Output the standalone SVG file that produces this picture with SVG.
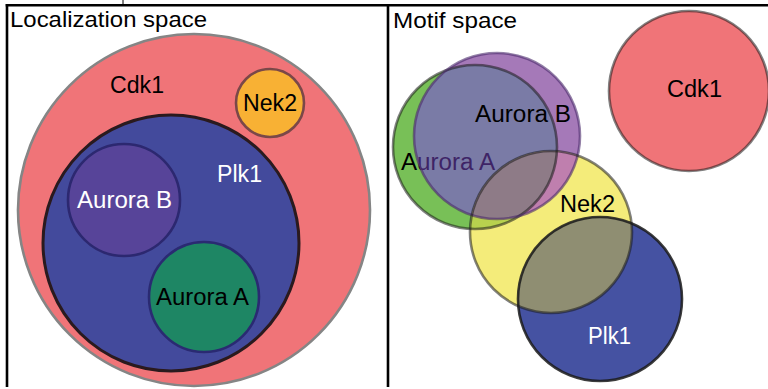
<svg xmlns="http://www.w3.org/2000/svg" width="768" height="389" viewBox="0 0 768 389">
<style>
text{font-family:"Liberation Sans",Arial,sans-serif;font-size:23px;fill:#000}
.w{fill:#fff}
.ttl{font-size:22.5px}
.frame{stroke:#000;stroke-width:2.6;fill:none}
.ms{fill:none;stroke:#1a1a1a;stroke-opacity:0.55;stroke-width:2.6}
</style>
<defs>
<clipPath id="cG"><circle cx="475" cy="147" r="82"/></clipPath>
<clipPath id="cP"><circle cx="497" cy="136" r="83"/></clipPath>
<clipPath id="cY"><circle cx="551" cy="232" r="81"/></clipPath>
</defs>
<rect width="768" height="389" fill="#fff"/>

<!-- Localization space -->
<g id="loc-cdk1">
<circle cx="194" cy="210" r="176" fill="#f07478" stroke="#858585" stroke-width="2.6"/>
<text x="137" y="93" text-anchor="middle" textLength="54" lengthAdjust="spacingAndGlyphs">Cdk1</text>
</g>
<g id="loc-nek2">
<circle cx="270" cy="103" r="34" fill="#f8b134" stroke="#7a4848" stroke-width="2.6"/>
<text x="270" y="111" text-anchor="middle" textLength="54" lengthAdjust="spacingAndGlyphs">Nek2</text>
</g>
<g id="loc-plk1">
<circle cx="171" cy="243" r="128" fill="#434a9c" stroke="#2a1a1e" stroke-width="3"/>
<text class="w" x="239.5" y="182" text-anchor="middle" textLength="45" lengthAdjust="spacingAndGlyphs">Plk1</text>
</g>
<g id="loc-aurora-b">
<circle cx="124" cy="200" r="56" fill="#574499" stroke="#2c2870" stroke-width="2.6"/>
<text class="w" x="124.5" y="208" text-anchor="middle" textLength="95" lengthAdjust="spacingAndGlyphs">Aurora B</text>
</g>
<g id="loc-aurora-a">
<circle cx="204" cy="297" r="55" fill="#1e8664" stroke="#2a2a72" stroke-width="2.6"/>
<text x="202.5" y="305" text-anchor="middle" textLength="93" lengthAdjust="spacingAndGlyphs">Aurora A</text>
</g>

<!-- Motif space -->
<g id="mot-cdk1">
<circle cx="689" cy="91" r="80" fill="#f07478" stroke="#1a1a1a" stroke-opacity="0.55" stroke-width="2.6"/>
<text x="694.5" y="97" text-anchor="middle" textLength="55" lengthAdjust="spacingAndGlyphs">Cdk1</text>
</g>
<g id="mot-aurora-a">
<circle cx="475" cy="147" r="82" fill="#78c057"/>
<text x="448" y="170" text-anchor="middle" textLength="94" lengthAdjust="spacingAndGlyphs">Aurora A</text>
</g>
<g id="mot-aurora-b">
<circle cx="497" cy="136" r="83" fill="#a579b8"/>
<circle cx="497" cy="136" r="83" fill="#7a7ba6" clip-path="url(#cG)"/>
<g clip-path="url(#cP)"><text x="448" y="170" text-anchor="middle" textLength="94" lengthAdjust="spacingAndGlyphs" style="fill:#3e2466">Aurora A</text></g>
</g>
<g id="mot-nek2">
<circle cx="551" cy="232" r="81" fill="#f4ec7a"/>
<circle cx="551" cy="232" r="81" fill="#b8d14e" clip-path="url(#cG)"/>
<circle cx="551" cy="232" r="81" fill="#bf7fae" clip-path="url(#cP)"/>
<g clip-path="url(#cP)"><circle cx="551" cy="232" r="81" fill="#8e7b87" clip-path="url(#cG)"/></g>
</g>
<g id="mot-plk1">
<circle cx="600" cy="299" r="82" fill="#4552a2"/>
<circle cx="600" cy="299" r="82" fill="#8f8e72" clip-path="url(#cY)"/>
</g>
<g id="mot-outlines">
<circle class="ms" cx="475" cy="147" r="82"/>
<circle class="ms" cx="497" cy="136" r="83" style="stroke:#4a2a6a;stroke-opacity:0.6"/>
<circle class="ms" cx="551" cy="232" r="81"/>
<circle class="ms" cx="600" cy="299" r="82" style="stroke-opacity:0.85"/>
</g>
<g id="mot-labels">
<text x="523" y="122" text-anchor="middle" textLength="96" lengthAdjust="spacingAndGlyphs">Aurora B</text>
<text x="587.5" y="212" text-anchor="middle" textLength="55" lengthAdjust="spacingAndGlyphs">Nek2</text>
<text class="w" x="609.5" y="344" text-anchor="middle" textLength="43" lengthAdjust="spacingAndGlyphs">Plk1</text>
</g>

<!-- Frame -->
<g id="frame">
<line class="frame" x1="5.7" y1="5.3" x2="768" y2="5.3"/>
<line class="frame" x1="7" y1="4" x2="7" y2="387"/>
<line class="frame" x1="388" y1="4" x2="388" y2="387"/>
<line x1="123" y1="0" x2="123" y2="4" stroke="#000" stroke-width="1"/>
<text class="ttl" x="10" y="27" textLength="197" lengthAdjust="spacingAndGlyphs">Localization space</text>
<text class="ttl" x="393" y="27.5" textLength="124" lengthAdjust="spacingAndGlyphs">Motif space</text>
</g>
</svg>
